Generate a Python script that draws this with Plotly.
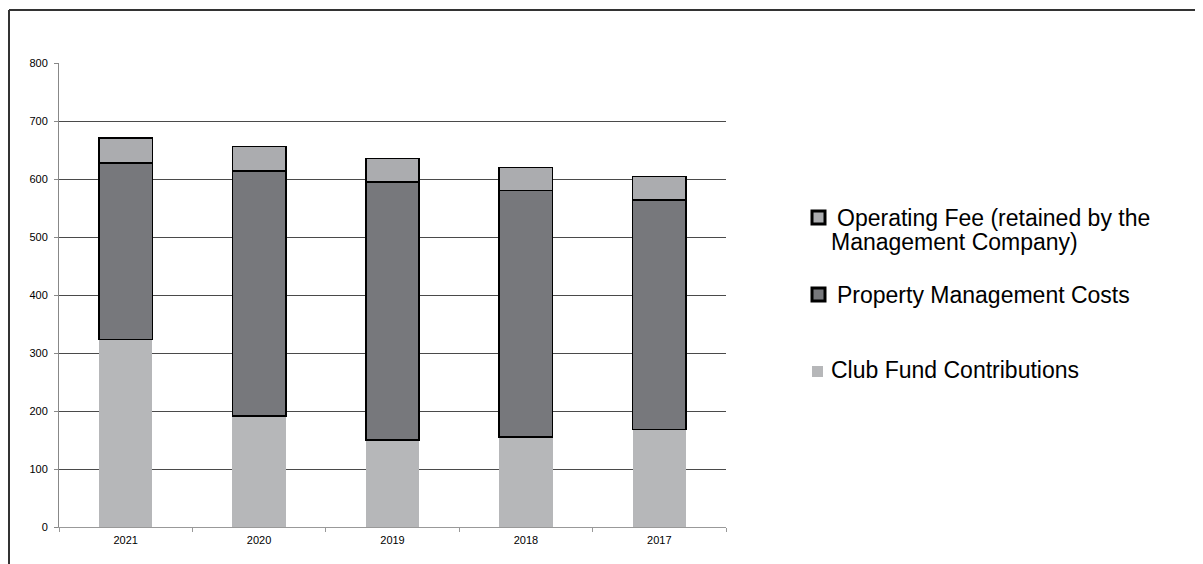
import plotly.graph_objects as go

years = ["2021", "2020", "2019", "2018", "2017"]
club_fund = [323, 191, 150, 155, 168]
property_mgmt = [305, 423, 445, 425, 396]
operating_fee = [43, 42, 40, 40, 40]
y_ticks = [0, 100, 200, 300, 400, 500, 600, 700, 800]
legend_labels = ["Operating Fee (retained by the", "Management Company)",
                 "Property Management Costs", "Club Fund Contributions"]

C_CLUB = "#b6b7b9"
C_PROP = "#77787c"
C_FEE = "#abacaf"

OFF = 8  # page body margin
W, H = 1203 - OFF, 564 - OFF
L, R, T, B = 59 - OFF, 477, 63 - OFF, 37
PW, PH = W - L - R, H - T - B


def px(x):
    return (x - OFF - L) / PW


def py(y):
    return (H - B - (y - OFF)) / PH


fig = go.Figure()
fig.add_bar(x=years, y=club_fund, name="Club Fund Contributions",
            marker=dict(color=C_CLUB, line=dict(width=0)), width=0.4)
fig.add_bar(x=years, y=property_mgmt, name="Property Management Costs",
            marker=dict(color=C_PROP, line=dict(color="#000", width=1.5)), width=0.4)
fig.add_bar(x=years, y=operating_fee, name="Operating Fee (retained by the Management Company)",
            marker=dict(color=C_FEE, line=dict(color="#000", width=1.5)), width=0.4)

shapes = [
    # outer frame (top and left edges)
    dict(type="line", xref="paper", yref="paper", x0=px(9), x1=px(1215), y0=py(10), y1=py(10),
         line=dict(color="#333", width=2)),
    dict(type="line", xref="paper", yref="paper", x0=px(9), x1=px(9), y0=py(10), y1=py(580),
         line=dict(color="#333", width=2)),
    # legend swatches
    dict(type="rect", xref="paper", yref="paper", x0=px(812), x1=px(825), y0=py(224), y1=py(211),
         fillcolor=C_FEE, line=dict(color="#000", width=3)),
    dict(type="rect", xref="paper", yref="paper", x0=px(812), x1=px(825), y0=py(301), y1=py(288),
         fillcolor=C_PROP, line=dict(color="#000", width=3)),
    dict(type="rect", xref="paper", yref="paper", x0=px(812), x1=px(823), y0=py(377), y1=py(366),
         fillcolor=C_CLUB, line=dict(width=0)),
]

ann_font = dict(family="Liberation Sans, Arial, sans-serif", size=23, color="#000")
annotations = [
    dict(text=legend_labels[0], x=px(835), y=py(218), xref="paper", yref="paper",
         xanchor="left", yanchor="middle", showarrow=False, font=ann_font),
    dict(text=legend_labels[1], x=px(829), y=py(242), xref="paper", yref="paper",
         xanchor="left", yanchor="middle", showarrow=False, font=ann_font),
    dict(text=legend_labels[2], x=px(835), y=py(295), xref="paper", yref="paper",
         xanchor="left", yanchor="middle", showarrow=False, font=ann_font),
    dict(text=legend_labels[3], x=px(829), y=py(370), xref="paper", yref="paper",
         xanchor="left", yanchor="middle", showarrow=False, font=ann_font),
]

fig.update_layout(
    barmode="stack",
    width=W, height=H,
    margin=dict(l=L, r=R, t=T, b=B, autoexpand=False),
    paper_bgcolor="white", plot_bgcolor="white",
    showlegend=False,
    font=dict(family="Liberation Sans, Arial, sans-serif", size=11, color="#000"),
    shapes=shapes,
    annotations=annotations,
    xaxis=dict(
        type="category", categoryorder="array", categoryarray=years,
        showline=True, linecolor="#999", linewidth=1,
        ticks="outside", tickson="boundaries", ticklen=4, tickcolor="#999",
        showgrid=False, tickfont=dict(size=11), ticklabelstandoff=3,
    ),
    yaxis=dict(
        range=[0, 800], tickvals=y_ticks,
        showline=True, linecolor="#888", linewidth=1,
        ticks="outside", ticklen=4, tickcolor="#888",
        showgrid=True, gridcolor="#4a4a4a", gridwidth=1,
        zeroline=False, tickfont=dict(size=11), ticklabelstandoff=4,
    ),
)

fig.write_html("out.html")
